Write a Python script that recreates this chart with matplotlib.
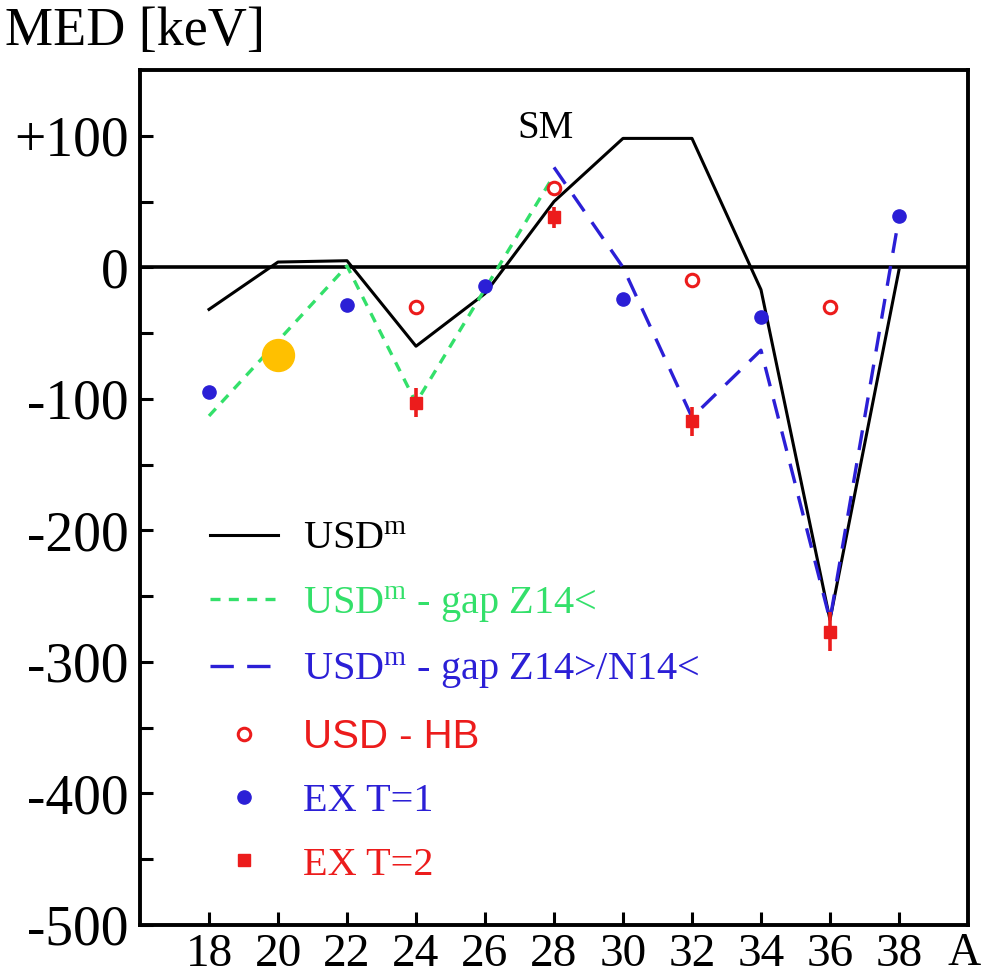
import matplotlib
matplotlib.use('Agg')
import matplotlib.pyplot as plt
from matplotlib.lines import Line2D

plt.rcParams['font.family'] = ['Liberation Serif', 'DejaVu Serif']
plt.rcParams['mathtext.fontset'] = 'custom'
plt.rcParams['mathtext.rm'] = 'Liberation Serif'
plt.rcParams['mathtext.it'] = 'Liberation Serif:italic'

#####################################################################
# data:
A_usdm = [18, 20, 22, 24, 26, 28, 30, 32, 34, 36, 38]
med_usdm = [-32, 4, 5, -60, -20, 50, 98, 98, -17, -268, -2]

A_gapZ = [18, 22, 24, 28]
med_gapZ = [-113, 1, -103, 70]

A_gapN = [28, 30, 32, 34, 36, 38]
med_gapN = [76, 0, -114, -63, -268, 38]

A_hb = [24, 28, 32, 36]
med_hb = [-30, 60, -10, -30]

A_t1 = [18, 22, 26, 30, 34, 38]
med_t1 = [-95, -29, -14, -24, -38, 39]

A_t2 = [24, 28, 32, 36]
med_t2 = [-103, 38, -117, -277]
err_t2 = [11, 8, 11, 15]

A_mark = [20]
med_mark = [-67]

xticks = [18, 20, 22, 24, 26, 28, 30, 32, 34, 36, 38]
yticks = [100, 0, -100, -200, -300, -400, -500]
yticklabels = ['+100', '0', '-100', '-200', '-300', '-400', '-500']

green = '#33e06a'
blue = '#2b1fd6'
red = '#ec1c1c'

#####################################################################
# plot:
fig = plt.figure(figsize=(9.84, 9.75), dpi=100)
ax = fig.add_axes([0.1423, 0.0513, 0.8414, 0.8769])

ax.axhline(0, color='black', lw=2.6, zorder=1)

ax.plot(A_usdm, med_usdm, color='black', lw=2.2, zorder=3)
ax.plot(A_gapZ, med_gapZ, color=green, lw=2.4, dashes=(3, 2.5), zorder=4)
ax.plot(A_gapN, med_gapN, color=blue, lw=2.4, dashes=(6, 4), zorder=4)
ax.plot(A_hb, med_hb, ls='none', marker='o', ms=9, mfc='white',
        mec=red, mew=2.2, zorder=5)
ax.plot(A_t1, med_t1, ls='none', marker='o', ms=9.5, color=blue, zorder=5)
ax.errorbar(A_t2, med_t2, yerr=err_t2, fmt='s', ms=8.5, color=red,
            ecolor=red, elinewidth=2.6, capsize=0, zorder=5)
ax.plot(A_mark, med_mark, ls='none', marker='o', ms=23, color='#ffc000',
        zorder=6)

ax.text(27.75, 98, 'SM', fontsize=28, ha='center', va='baseline')

#####################################################################
# format:
ax.set_xlim(16, 40)
ax.set_ylim(-500, 150)
ax.set_xticks(xticks)
ax.set_xticklabels([str(x) for x in xticks])
ax.set_yticks(yticks)
ax.set_yticklabels(yticklabels)
ax.set_yticks(range(-450, 150, 100), minor=True)
ax.tick_params(axis='both', which='both', direction='in', length=9.5,
               width=2.2, top=False, right=False)
ax.tick_params(axis='x', labelsize=34, pad=6)
ax.tick_params(axis='y', labelsize=40, pad=8)
for s in ax.spines.values():
    s.set_linewidth(2.8)

ax.text(0.995, -0.047, 'A', transform=ax.transAxes, fontsize=33,
        ha='center', va='baseline')
fig.text(0.005, 0.993, 'MED [keV]', fontsize=39, ha='left', va='top')

handles = [
    Line2D([], [], color='black', lw=2.2),
    Line2D([], [], color=green, lw=2.4, dashes=(3, 2.5)),
    Line2D([], [], color=blue, lw=2.4, dashes=(7, 4)),
    Line2D([], [], ls='none', marker='o', ms=9, mfc='white', mec=red, mew=2.2),
    Line2D([], [], ls='none', marker='o', ms=9.5, color=blue),
    Line2D([], [], ls='none', marker='s', ms=8.5, color=red),
]
labels = ['USD$^{\\mathrm{m}}$',
          'USD$^{\\mathrm{m}}$ - gap Z14<',
          'USD$^{\\mathrm{m}}$ - gap Z14>/N14<',
          'USD - HB',
          'EX T=1',
          'EX T=2']
leg = ax.legend(handles, labels, loc='upper left',
                bbox_to_anchor=(0.065, 0.492), frameon=False, fontsize=29,
                handlelength=1.7, handletextpad=0.6, labelspacing=0.66,
                borderaxespad=0)
for txt, c in zip(leg.get_texts(), ['black', green, blue, red, blue, red]):
    txt.set_color(c)
leg.get_texts()[3].set_fontfamily(['Liberation Sans', 'DejaVu Sans'])

fig.savefig('out.png', dpi=100)
